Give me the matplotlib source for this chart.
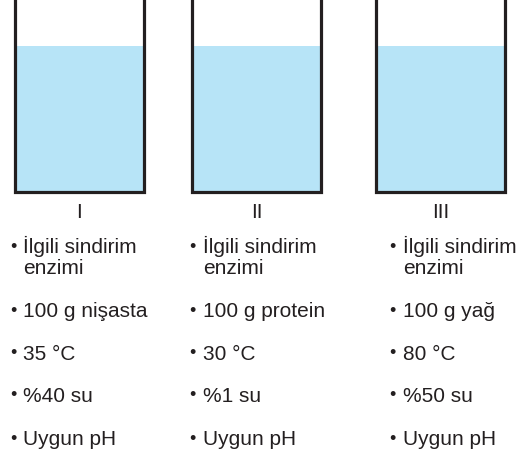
import matplotlib.pyplot as plt
from matplotlib.patches import Rectangle

plt.rcParams['font.family'] = ['Liberation Sans', 'DejaVu Sans']

# beaker labels and contents
beaker_names = ['I', 'II', 'III']
water_level = [0.76, 0.76, 0.76]  # filled fraction of the visible beaker height
line1 = ['İlgili sindirim', 'İlgili sindirim', 'İlgili sindirim']
line1b = ['enzimi', 'enzimi', 'enzimi']
substrate = ['100 g nişasta', '100 g protein', '100 g yağ']
temperature = ['35 °C', '30 °C', '80 °C']
water = ['%40 su', '%1 su', '%50 su']
ph = ['Uygun pH', 'Uygun pH', 'Uygun pH']

# layout (pixels, y downwards)
beaker_left = [15, 192, 376]
beaker_w = 129
beaker_bottom = 192
bullet_x = [13, 192, 392]
text_x = [23, 203, 403]
ink = '#231f20'
water_col = '#b7e4f7'
fs = 15

fig = plt.figure(figsize=(5.25, 4.55), dpi=100)
ax = fig.add_axes([0, 0, 1, 1])
ax.set_xlim(0, 525)
ax.set_ylim(455, 0)
ax.axis('off')

for i, name in enumerate(beaker_names):
    x0 = beaker_left[i]
    x1 = x0 + beaker_w
    top = beaker_bottom - water_level[i] * beaker_bottom
    ax.add_patch(Rectangle((x0, top), beaker_w, beaker_bottom - top,
                           facecolor=water_col, edgecolor='none', zorder=1))
    ax.plot([x0, x0, x1, x1], [-5, beaker_bottom, beaker_bottom, -5],
            color=ink, lw=2.3, solid_joinstyle='miter', zorder=2)

    cx = x0 + beaker_w / 2
    ax.text(cx, 218, name, ha='center', va='baseline', fontsize=fs, color=ink)

    rows = [(253, line1[i]), (317, substrate[i]), (360, temperature[i]),
            (402, water[i]), (445, ph[i])]
    for y, s in rows:
        ax.text(bullet_x[i], y - 1.5, '•', ha='center', va='baseline', fontsize=13, color=ink)
        ax.text(text_x[i], y, s, ha='left', va='baseline', fontsize=fs, color=ink)
    ax.text(text_x[i], 274, line1b[i], ha='left', va='baseline', fontsize=fs, color=ink)

plt.savefig('out.png', dpi=100)
